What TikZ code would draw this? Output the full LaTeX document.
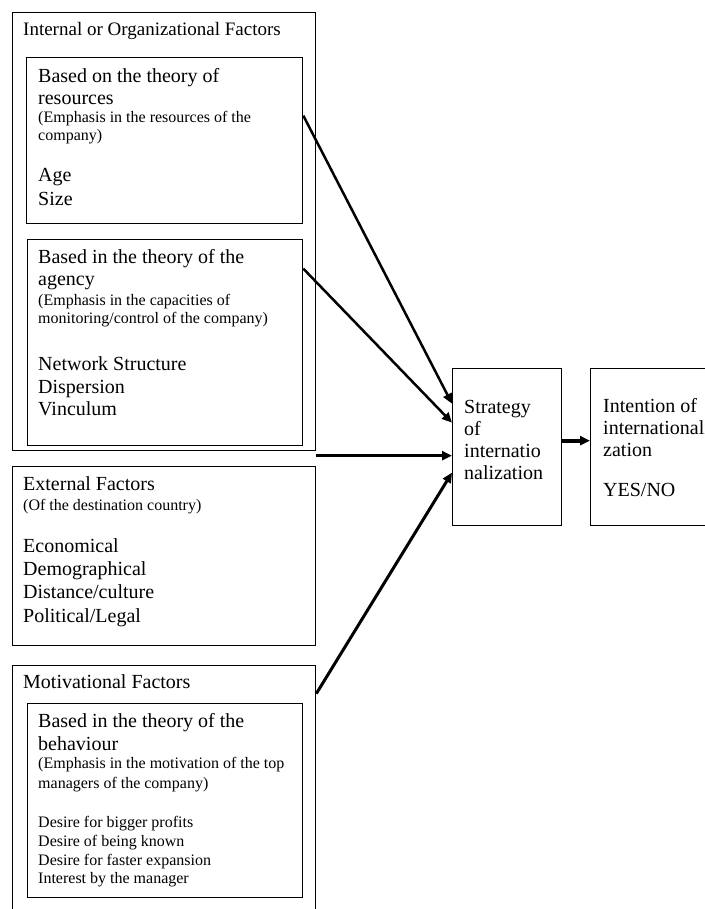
\documentclass[tikz,border=0pt]{standalone}
\usepackage{fontspec}
\setmainfont{Liberation Serif}
\usetikzlibrary{arrows.meta}
\setlength{\parindent}{0pt}
\newcommand{\bigsz}{\fontsize{20}{22}\selectfont}
\newcommand{\smallsz}{\fontsize{16}{18}\selectfont}
\newcommand{\firstline}{\rule{0pt}{15pt}}
\tikzset{
  box/.style={draw, line width=1.3pt, anchor=north west, inner sep=0},
  txt/.style={anchor=north west, inner sep=0, align=flush left, text width=#1, font=\bigsz},
  txt/.default=280pt,
  link/.style={line width=#1, -{Triangle[length=10pt,width=9pt]}},
}
\begin{document}
\begin{tikzpicture}[x=1pt,y=-1pt]
\useasboundingbox (0,0) rectangle (704,909);
% boxes
\node[box, minimum width=303pt, minimum height=438pt] (internal) at (12,12) {};
\node[box, minimum width=276pt, minimum height=166pt] (resA) at (26,57) {};
\node[box, minimum width=275pt, minimum height=206pt] (resB) at (27,239) {};
\node[box, minimum width=303pt, minimum height=179pt] (external) at (12,466) {};
\node[box, minimum width=303pt, minimum height=250pt] (motiv) at (12,665) {};
\node[box, minimum width=275pt, minimum height=194pt] (behav) at (27,703) {};
\node[box, minimum width=109pt, minimum height=157pt] (strategy) at (452,368) {};
\node[box, minimum width=125pt, minimum height=157pt] (intention) at (590,368) {};
% texts
\node[txt, font=\fontsize{19}{22}\selectfont] (intTitle) at (23,20) {\firstline Internal or Organizational Factors};
\node[txt] (resAtext) at (38,67) {{\firstline Based on the theory of\\resources\par}{\smallsz (Emphasis in the resources of the\\company)\par}\vspace{19pt}Age\\[2pt]Size};
\node[txt] (resBtext) at (38,248) {{\firstline Based in the theory of the\\agency\par}{\smallsz\vspace{2pt}(Emphasis in the capacities of\\monitoring/control of the company)\par}\vspace{25pt}Network Structure\\[1pt]Dispersion\\Vinculum};
\node[txt] (extText) at (23,475) {{\firstline External Factors\par}{\smallsz\vspace{2pt}(Of the destination country)\par}\vspace{20pt}Economical\\[1pt]Demographical\\[1pt]Distance/culture\\[2pt]Political/Legal};
\node[txt] (motTitle) at (23,673) {\firstline Motivational Factors};
\node[txt] (behavText) at (38,712) {{\firstline Based in the theory of the\\[1pt]behaviour\par}{\smallsz (Emphasis in the motivation of the top\\[2pt]managers of the company)\par}\vspace{21pt}{\smallsz Desire for bigger profits\\[1pt]Desire of being known\\[1pt]Desire for faster expansion\\Interest by the manager\par}};
\node[txt=100pt] (stratText) at (464,398) {\firstline Strategy\\of\\internatio\\nalization};
\node[txt=150pt] (intText) at (603,397) {\firstline Intention of\\internationali\\zation\\[18pt]YES/NO};
% arrows
\draw[link=2.5pt] ([yshift=25pt]resA.east) -- ([yshift=43.5pt]strategy.west);
\draw[link=2.5pt] ([yshift=74pt]resB.east) -- ([yshift=24.5pt]strategy.west);
\draw[link=3.5pt] ([yshift=100.5pt]external.east) -- ([yshift=-8.5pt]strategy.west);
\draw[link=3pt] ([yshift=97pt]motiv.east) -- ([yshift=-25.5pt]strategy.west);
\draw[link=4pt] ([yshift=6.5pt]strategy.east) -- ([yshift=6.5pt]intention.west);
\end{tikzpicture}
\end{document}
